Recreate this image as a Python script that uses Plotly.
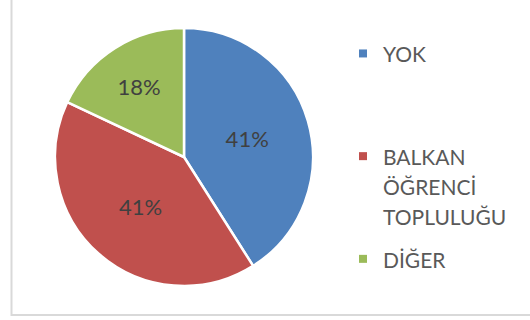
import plotly.graph_objects as go

# Category labels (wrapped as displayed) and shares in percent
labels = ["YOK", "BALKAN<br>ÖĞRENCİ<br>TOPLULUĞU", "DİĞER"]
shares = [41, 41, 18]
colors = ["#4F81BD", "#C0504D", "#9BBB59"]

W, H = 530, 320
FONT = "Lato"

fig = go.Figure()

fig.add_trace(
    go.Pie(
        labels=labels,
        values=shares,
        sort=False,
        direction="clockwise",
        rotation=0,
        marker=dict(colors=colors, line=dict(color="white", width=2.5)),
        textinfo="percent",
        texttemplate="%{percent:.0%}",
        textposition="inside",
        insidetextorientation="horizontal",
        textfont=dict(family=FONT, size=22, color="#404040"),
        domain=dict(x=[55 / W, 313 / W], y=[1 - 286 / H, 1 - 28 / H]),
        hoverinfo="label+percent",
        showlegend=False,
    )
)


def legend_label(text, pad_lines=0):
    """Wrap a label in a slightly smaller span; the legend font sets line pitch."""
    lines = text.split("<br>") + [" "] * pad_lines
    return "<br>".join(f"<span style='font-size:21px'>{ln}</span>" for ln in lines)


# Legend keys: small square swatches, one group per category so the
# entries can be spaced apart; the first entry is padded to a full slot
slot_lines = max(lab.count("<br>") + 1 for lab in labels)
for i, (lab, col) in enumerate(zip(labels, colors)):
    pad = slot_lines - 1 if i == 0 else 0
    fig.add_trace(
        go.Scatter(
            x=[None],
            y=[None],
            mode="markers",
            name=legend_label(lab, pad),
            legendgroup=f"g{i}",
            marker=dict(symbol="square", size=8, color=col),
            hoverinfo="skip",
        )
    )

fig.update_layout(
    width=W,
    height=H,
    margin=dict(l=0, r=0, t=0, b=0),
    paper_bgcolor="white",
    plot_bgcolor="white",
    xaxis=dict(visible=False),
    yaxis=dict(visible=False),
    font=dict(family=FONT, size=23, color="#595959"),
    legend=dict(
        x=343 / W,
        y=1 - 32 / H,
        xanchor="left",
        yanchor="top",
        valign="top",
        tracegroupgap=10,
        bgcolor="rgba(0,0,0,0)",
    ),
    shapes=[
        dict(
            type="rect",
            xref="paper",
            yref="paper",
            x0=11.5 / W,
            x1=1.05,
            y0=1 - 315 / H,
            y1=1.05,
            line=dict(color="#D9D9D9", width=2),
            fillcolor="rgba(0,0,0,0)",
            layer="below",
        )
    ],
)

fig.write_html("out.html")
